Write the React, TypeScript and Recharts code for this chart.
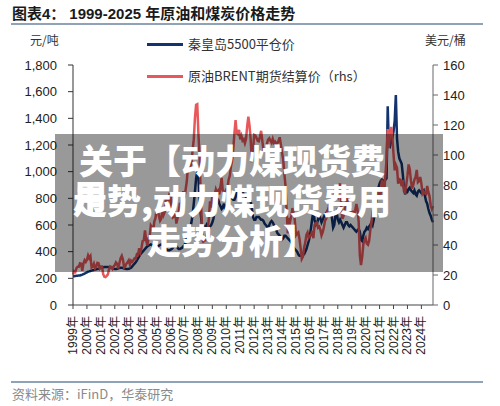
import React from 'react';
import { LineChart, Line, XAxis, YAxis } from 'recharts';

// Monthly data, starting Aug 1999 (index 0) through Jun 2025 (index 310)
const brent: number[] = [
  // 1999 Aug-Dec
  20.3, 22.5, 22.0, 24.6, 25.5,
  // 2000
  25.5, 27.8, 27.5, 22.8, 27.6, 29.8, 28.7, 30.1, 33.1, 31.2, 32.5, 25.0,
  // 2001
  25.6, 27.5, 24.5, 25.6, 28.1, 27.8, 24.5, 25.7, 25.7, 20.5, 18.9, 18.6,
  // 2002
  19.4, 20.3, 23.7, 25.7, 25.4, 24.1, 25.7, 26.6, 28.4, 27.5, 24.3, 28.0,
  // 2003
  31.2, 32.8, 30.3, 25.0, 25.8, 27.6, 28.5, 29.8, 27.0, 29.6, 28.8, 29.8,
  // 2004
  31.2, 30.9, 33.8, 33.4, 37.9, 35.2, 38.2, 42.7, 43.2, 49.8, 43.1, 39.6,
  // 2005
  44.5, 45.5, 53.1, 51.9, 49.0, 55.6, 57.9, 63.8, 63.7, 59.4, 56.2, 57.6,
  // 2006
  63.9, 60.1, 62.1, 70.3, 70.0, 68.9, 73.7, 73.2, 62.4, 58.3, 58.9, 62.3,
  // 2007
  54.3, 57.8, 62.1, 67.5, 67.9, 70.6, 75.8, 71.2, 77.0, 82.5, 92.1, 91.5,
  // 2008
  91.9, 94.6, 103.3, 110.4, 124.6, 133.5, 133.9, 113.9, 99.1, 72.8, 53.2, 41.6,
  // 2009
  43.9, 43.4, 47.1, 49.7, 58.1, 69.1, 64.9, 73.0, 67.7, 73.2, 77.0, 74.7,
  // 2010
  76.2, 73.8, 78.8, 84.8, 75.9, 74.8, 75.6, 77.1, 78.2, 83.5, 86.1, 92.3,
  // 2011
  96.5, 103.7, 114.6, 123.3, 114.5, 113.9, 116.7, 110.4, 112.8, 109.6, 110.5, 107.9,
  // 2012
  110.7, 119.3, 125.5, 119.8, 110.3, 95.2, 102.6, 113.4, 113.0, 111.5, 109.5, 109.2,
  // 2013
  112.3, 116.1, 109.5, 103.3, 103.3, 103.3, 107.4, 110.3, 111.2, 109.5, 108.1, 110.7,
  // 2014
  108.1, 108.9, 107.5, 107.8, 109.5, 111.8, 106.8, 101.6, 97.1, 87.4, 79.4, 62.3,
  // 2015
  47.8, 58.1, 55.9, 59.5, 64.6, 61.7, 56.5, 46.5, 47.6, 48.4, 44.3, 38.0,
  // 2016
  30.7, 32.2, 38.2, 41.6, 46.7, 48.3, 44.9, 45.8, 46.6, 49.5, 44.5, 53.3,
  // 2017
  54.6, 54.9, 51.6, 52.3, 50.3, 46.4, 48.5, 51.7, 56.2, 57.5, 62.7, 64.4,
  // 2018
  69.1, 65.3, 66.0, 72.1, 76.9, 74.4, 74.3, 72.5, 78.9, 81.0, 64.8, 57.4,
  // 2019
  59.4, 64.0, 66.1, 71.2, 71.3, 64.2, 63.9, 59.0, 62.8, 59.7, 63.2, 67.3,
  // 2020
  63.6, 55.5, 33.0, 26.6, 32.0, 40.3, 43.2, 44.7, 40.9, 40.2, 42.7, 49.9,
  // 2021
  54.8, 62.3, 65.4, 64.8, 68.5, 73.2, 75.2, 70.8, 74.5, 83.5, 81.0, 74.2,
  // 2022
  86.5, 97.1, 117.3, 104.6, 113.3, 118.7, 111.9, 100.5, 89.8, 93.3, 91.4, 80.9,
  // 2023
  83.9, 83.5, 79.2, 83.4, 75.7, 74.9, 80.1, 86.2, 93.7, 90.6, 82.9, 77.6,
  // 2024
  80.1, 83.5, 85.4, 90.1, 81.8, 82.6, 85.3, 80.9, 74.3, 75.6, 74.4, 73.9,
  // 2025 Jan-Jun
  79.3, 75.2, 72.6, 66.5, 64.0, 66.0,
];

const coal: number[] = [
  // 1999 Aug-Dec
  215, 215, 218, 220, 220,
  // 2000
  222, 222, 225, 228, 232, 236, 240, 245, 250, 252, 255, 258,
  // 2001
  260, 262, 265, 268, 270, 272, 275, 278, 280, 282, 285, 285,
  // 2002
  285, 285, 283, 280, 278, 275, 272, 270, 270, 272, 275, 278,
  // 2003
  280, 280, 278, 275, 272, 270, 270, 272, 275, 280, 290, 300,
  // 2004
  310, 320, 335, 350, 365, 380, 390, 400, 410, 420, 430, 440,
  // 2005
  445, 450, 455, 450, 440, 430, 425, 430, 440, 445, 450, 455,
  // 2006
  450, 440, 430, 420, 415, 410, 410, 415, 420, 430, 440, 445,
  // 2007
  440, 430, 420, 420, 425, 430, 440, 450, 470, 500, 530, 560,
  // 2008
  580, 620, 680, 760, 850, 950, 1000, 960, 800, 680, 600, 580,
  // 2009
  590, 580, 600, 580, 570, 590, 600, 620, 650, 700, 760, 800,
  // 2010
  790, 760, 740, 720, 730, 760, 720, 710, 710, 760, 800, 810,
  // 2011
  800, 790, 790, 810, 840, 850, 850, 840, 840, 850, 830, 820,
  // 2012
  810, 800, 790, 790, 780, 720, 660, 640, 640, 660, 660, 660,
  // 2013
  650, 640, 640, 630, 610, 600, 590, 580, 600, 620, 630, 620,
  // 2014
  600, 580, 560, 540, 530, 520, 500, 490, 500, 520, 520, 510,
  // 2015
  500, 490, 480, 470, 450, 430, 420, 410, 400, 380, 370, 370,
  // 2016
  370, 380, 380, 400, 420, 450, 480, 520, 580, 650, 700, 640,
  // 2017
  600, 610, 640, 680, 650, 620, 640, 660, 680, 690, 700, 720,
  // 2018
  720, 700, 650, 580, 600, 680, 700, 640, 620, 640, 620, 600,
  // 2019
  580, 600, 620, 620, 600, 590, 600, 590, 580, 570, 560, 550,
  // 2020
  560, 570, 550, 490, 480, 520, 550, 560, 580, 570, 590, 600,
  // 2021
  620, 600, 640, 700, 780, 840, 880, 910, 930, 940, 930, 935,
  // 2022
  940, 950, 1490, 1200, 1190, 1230, 1250, 1300, 1380, 1575, 1250, 1150,
  // 2023
  1100, 1080, 1060, 980, 880, 830, 860, 850, 870, 880, 860, 850,
  // 2024
  840, 860, 830, 820, 850, 860, 850, 840, 850, 860, 820, 780,
  // 2025 Jan-Jun
  760, 720, 690, 670, 640, 620,
];

const xLabels: string[] = [
  '1999年', '2000年', '2001年', '2002年', '2003年', '2004年', '2005年',
  '2006年', '2007年', '2008年', '2009年', '2010年', '2011年', '2012年',
  '2013年', '2014年', '2015年', '2016年', '2017年', '2018年', '2019年',
  '2020年', '2021年', '2022年', '2023年', '2024年',
];

const leftTicks: number[] = [0, 200, 400, 600, 800, 1000, 1200, 1400, 1600, 1800];
const rightTicks: number[] = [0, 20, 40, 60, 80, 100, 120, 140, 160];

const seriesNames = {
  coal: '秦皇岛5500平仓价',
  brent: '原油BRENT期货结算价（rhs）',
};

const data = coal.map((c, i) => ({ i, coal: c, brent: brent[i] }));
const xTicks = xLabels.map((_, k) => k * 12);

const BLUE = '#12336e';
const RED = '#e8585b';
const NUM_FONT = '"Liberation Sans", Arial, "Noto Sans CJK SC", sans-serif';
const CJK_FONT = '"Noto Sans CJK SC", "Liberation Sans", sans-serif';

const XTick = (props: any) => {
  const { x, y, payload } = props;
  const label = xLabels[Math.round(payload.value / 12)];
  const yy = y + 5;
  return (
    <text
      x={x}
      y={yy}
      transform={`rotate(-90 ${x} ${yy})`}
      textAnchor="end"
      dominantBaseline="central"
      fontSize={12}
      fill="#222"
      fontFamily={NUM_FONT}
    >
      {label}
    </text>
  );
};

export default function App() {
  return (
    <div
      style={{
        position: 'fixed',
        left: 0,
        top: 0,
        width: 500,
        height: 406,
        background: '#fff',
        overflow: 'hidden',
      }}
    >
      {/* Title */}
      <div
        style={{
          position: 'absolute',
          left: 12,
          top: 4,
          fontSize: 15,
          fontWeight: 700,
          color: '#1a1a1a',
          fontFamily: NUM_FONT,
          whiteSpace: 'nowrap',
          lineHeight: '20px',
        }}
      >
        图表4：<span style={{ marginLeft: 4 }}>1999-2025 年原油和煤炭价格走势</span>
      </div>
      <div style={{ position: 'absolute', left: 11, top: 23, width: 472, height: 2, background: '#8fa2b8' }} />

      {/* Units */}
      <div style={{ position: 'absolute', left: 30, top: 32, fontSize: 12, color: '#333', fontFamily: CJK_FONT, lineHeight: '16px' }}>元/吨</div>
      <div style={{ position: 'absolute', left: 425, top: 32, fontSize: 12, color: '#333', fontFamily: CJK_FONT, lineHeight: '16px' }}>美元/桶</div>

      {/* Legend */}
      <div style={{ position: 'absolute', left: 147, top: 43, width: 36, height: 3, background: BLUE }} />
      <div style={{ position: 'absolute', left: 188, top: 35, fontSize: 13, color: '#333', fontFamily: CJK_FONT, lineHeight: '18px', whiteSpace: 'nowrap' }}>{seriesNames.coal}</div>
      <div style={{ position: 'absolute', left: 147, top: 75, width: 36, height: 3, background: RED }} />
      <div style={{ position: 'absolute', left: 188, top: 67, fontSize: 13, color: '#333', fontFamily: CJK_FONT, lineHeight: '18px', whiteSpace: 'nowrap' }}>{seriesNames.brent}</div>

      {/* Chart */}
      <div style={{ position: 'absolute', left: 0, top: 0 }}>
        <LineChart width={500} height={406} data={data} margin={{ top: 65, right: 0, bottom: 41, left: 0 }}>
          <XAxis
            dataKey="i"
            type="number"
            domain={[0, 310]}
            ticks={xTicks}
            interval={0}
            tick={<XTick />}
            tickSize={4}
            height={60}
            axisLine={{ stroke: '#444' }}
            tickLine={{ stroke: '#444' }}
          />
          <YAxis
            yAxisId="l"
            domain={[0, 1800]}
            ticks={leftTicks}
            interval={0}
            width={73}
            tickSize={5}
            tickMargin={11}
            tickFormatter={(v: number) => v.toLocaleString('en-US')}
            tick={{ fontSize: 13, fill: '#222', fontFamily: NUM_FONT }}
            axisLine={{ stroke: '#333' }}
            tickLine={{ stroke: '#333' }}
          />
          <YAxis
            yAxisId="r"
            orientation="right"
            domain={[0, 160]}
            ticks={rightTicks}
            interval={0}
            width={67}
            tickSize={5}
            tickMargin={5}
            tick={{ fontSize: 13, fill: '#222', fontFamily: NUM_FONT, textAnchor: 'start' }}
            axisLine={{ stroke: '#666' }}
            tickLine={{ stroke: '#666' }}
          />
          <Line yAxisId="l" type="linear" dataKey="coal" stroke={BLUE} strokeWidth={2.5} dot={false} isAnimationActive={false} />
          <Line yAxisId="r" type="linear" dataKey="brent" stroke={RED} strokeWidth={2.5} dot={false} isAnimationActive={false} />
        </LineChart>
      </div>

      {/* Overlay */}
      <div
        style={{
          position: 'absolute',
          left: 55,
          top: 134,
          width: 388,
          height: 138,
          background: 'rgba(0,0,0,0.4)',
        }}
      />
      <div
        style={{
          position: 'absolute',
          left: 55,
          top: 140,
          width: 354,
          textAlign: 'center',
          color: '#fff',
          fontSize: 34,
          fontWeight: 900,
          lineHeight: '40px',
          fontFamily: CJK_FONT,
          whiteSpace: 'nowrap',
        }}
      >
        <div>关于【动力煤现货费</div>
        <div>
          <span style={{ position: 'relative' }}>
            走<span style={{ position: 'absolute', left: 0, top: 0 }}>用</span>
          </span>
          势,动力煤现货费用
        </div>
        <div>走势分析】</div>
      </div>

      {/* Footer */}
      <div style={{ position: 'absolute', left: 11, top: 381, width: 472, height: 2, background: '#8fa2b8' }} />
      <div style={{ position: 'absolute', left: 12, top: 385, fontSize: 13, color: '#8a8a8a', fontFamily: CJK_FONT, lineHeight: '17px', whiteSpace: 'nowrap' }}>
        资料来源：iFinD，华泰研究
      </div>
    </div>
  );
}
